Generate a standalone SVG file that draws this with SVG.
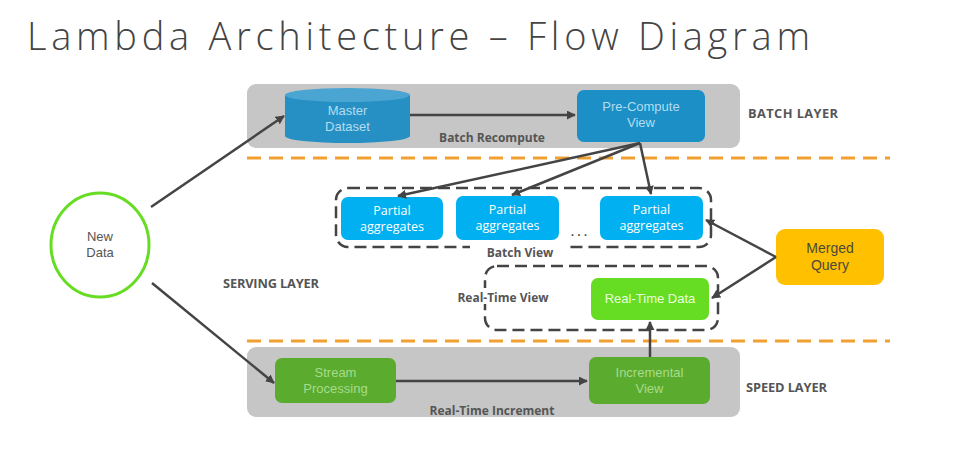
<svg xmlns="http://www.w3.org/2000/svg" width="957" height="456" viewBox="0 0 957 456">
<defs>
<marker id="ah" viewBox="0 0 10 10" refX="9" refY="5" markerWidth="9" markerHeight="9" markerUnits="userSpaceOnUse" orient="auto">
<path d="M0,0 L10,5 L0,10 z" fill="#444"/>
</marker>
</defs>
<style>
.t{font-family:"Liberation Sans",Arial,sans-serif;font-size:13px;text-anchor:middle}
.b{font-family:"Open Sans","DejaVu Sans",sans-serif;font-weight:bold;font-size:12px;fill:#555}
.lb{font-size:12.8px}
.pa{font-family:"Open Sans","DejaVu Sans",sans-serif;font-size:12.5px;fill:#fff;text-anchor:middle}
.layer{fill:#c6c6c6}
.conn{stroke:#444;stroke-width:2.5;fill:none;marker-end:url(#ah)}
.orange{stroke:#f0a030;stroke-width:3;stroke-dasharray:14 8;fill:none}
.dash{stroke:#444;stroke-width:2.5;stroke-dasharray:12 6;fill:none}
</style>
<rect width="957" height="456" fill="#fff"/>
<text x="27" y="50" font-family="'Open Sans','Lato',sans-serif" font-weight="300" font-size="38" fill="#444" textLength="783" lengthAdjust="spacing">Lambda Architecture – Flow Diagram</text>

<g id="batch-layer">
<rect class="layer" x="247" y="84" width="493" height="64" rx="9"/>
<text class="b lb" x="748" y="118" textLength="90">BATCH LAYER</text>
<text class="b" x="492" y="142" text-anchor="middle">Batch Recompute</text>
</g>
<g id="speed-layer">
<rect class="layer" x="247" y="347" width="493" height="70" rx="9"/>
<text class="b lb" x="746" y="392" textLength="81">SPEED LAYER</text>
<text class="b" x="492" y="415" text-anchor="middle">Real-Time Increment</text>
</g>
<g id="serving-layer">
<text class="b lb" x="223" y="288" textLength="96">SERVING LAYER</text>
<line class="orange" x1="247" y1="158" x2="890" y2="158"/>
<line class="orange" x1="247" y1="341" x2="890" y2="341"/>
</g>

<g id="master-dataset">
<path d="M285,95 L285,136 A62.5,7 0 0 0 410,136 L410,95 Z" fill="#2690c4"/>
<ellipse cx="347.5" cy="95" rx="62.5" ry="7" fill="#4ba5d2"/>
<text class="t" x="347.5" y="115" fill="#b3dcef">Master</text>
<text class="t" x="347.5" y="131" fill="#b3dcef">Dataset</text>
</g>
<g id="pre-compute-view">
<rect x="577" y="90" width="128" height="52" rx="7" fill="#1b8fc6"/>
<text class="t" x="641" y="111" fill="#b3dcef">Pre-Compute</text>
<text class="t" x="641" y="127" fill="#b3dcef">View</text>
</g>

<g id="batch-view">
<rect class="dash" x="336" y="188" width="375" height="59" rx="12"/>
<rect x="470" y="244" width="100" height="16" fill="#fff"/>
<text class="b" x="520" y="257" text-anchor="middle">Batch View</text>
<text x="580" y="236" font-family="'Liberation Sans',sans-serif" font-size="16" fill="#444" text-anchor="middle" letter-spacing="2">...</text>
</g>
<g id="partial-1">
<rect x="341" y="197" width="102" height="43" rx="7" fill="#00b0f0"/>
<text class="pa" x="392" y="215">Partial</text>
<text class="pa" x="392" y="231">aggregates</text>
</g>
<g id="partial-2">
<rect x="456" y="196" width="103" height="44" rx="7" fill="#00b0f0"/>
<text class="pa" x="507.5" y="214">Partial</text>
<text class="pa" x="507.5" y="230">aggregates</text>
</g>
<g id="partial-3">
<rect x="600" y="196" width="103" height="44" rx="7" fill="#00b0f0"/>
<text class="pa" x="651.5" y="214">Partial</text>
<text class="pa" x="651.5" y="230">aggregates</text>
</g>

<g id="real-time-view">
<rect class="dash" x="485" y="266" width="233" height="64" rx="12"/>
<rect x="452" y="288" width="104" height="16" fill="#fff"/>
<text class="b" x="503" y="302" text-anchor="middle">Real-Time View</text>
</g>
<g id="real-time-data">
<rect x="591" y="278" width="118" height="42" rx="7" fill="#66dd22"/>
<text class="t" x="650" y="303" fill="#eaffdc">Real-Time Data</text>
</g>

<g id="merged-query">
<rect x="776" y="229" width="108" height="56" rx="9" fill="#ffc000"/>
<text class="t" x="830" y="253" fill="#4a4a3a" style="font-size:14px">Merged</text>
<text class="t" x="830" y="270" fill="#4a4a3a" style="font-size:14px">Query</text>
</g>

<g id="new-data">
<ellipse cx="100" cy="245" rx="49" ry="52" fill="#fff" stroke="#66dd22" stroke-width="3"/>
<text class="t" x="100" y="241" fill="#555">New</text>
<text class="t" x="100" y="257" fill="#555">Data</text>
</g>

<g id="stream-processing">
<rect x="275" y="358" width="121" height="45" rx="7" fill="#5aab2e"/>
<text class="t" x="335.5" y="377" fill="#a8dc8a">Stream</text>
<text class="t" x="335.5" y="393" fill="#a8dc8a">Processing</text>
</g>
<g id="incremental-view">
<rect x="589" y="357" width="121" height="47" rx="7" fill="#5aab2e"/>
<text class="t" x="649.5" y="377" fill="#a8dc8a">Incremental</text>
<text class="t" x="649.5" y="393" fill="#a8dc8a">View</text>
</g>

<g id="connectors">
<line class="conn" x1="151" y1="207" x2="284" y2="116"/>
<line class="conn" x1="152" y1="283" x2="274" y2="383"/>
<line class="conn" x1="410" y1="115" x2="575" y2="115"/>
<line class="conn" x1="640" y1="143" x2="398" y2="196"/>
<line class="conn" x1="640" y1="143" x2="512" y2="195"/>
<line class="conn" x1="640" y1="143" x2="651" y2="194"/>
<line class="conn" x1="396" y1="381" x2="587" y2="381"/>
<line class="conn" x1="650" y1="357" x2="650" y2="322"/>
<line class="conn" x1="776" y1="257" x2="706" y2="220"/>
<line class="conn" x1="776" y1="257" x2="712" y2="298"/>
</g>
</svg>
